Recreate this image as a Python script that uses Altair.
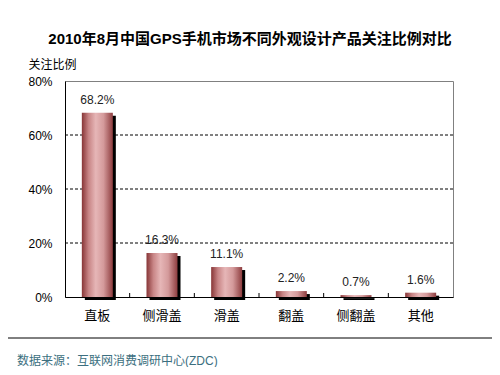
import altair as alt
import pandas as pd

categories = ["直板", "侧滑盖", "滑盖", "翻盖", "侧翻盖", "其他"]
values = [68.2, 16.3, 11.1, 2.2, 0.7, 1.6]
value_labels = ["68.2%", "16.3%", "11.1%", "2.2%", "0.7%", "1.6%"]
y_ticks = [0, 20, 40, 60, 80]
grid_values = [20, 40, 60]

title_text = "2010年8月中国GPS手机市场不同外观设计产品关注比例对比"
y_title = "关注比例"
source_text = "数据来源：互联网消费调研中心(ZDC)"

FONT = "Liberation Sans, Noto Sans CJK SC, sans-serif"

df = pd.DataFrame({"cat": categories, "val": values, "lab": value_labels})
grid_df = pd.DataFrame({"g": grid_values})

xenc = alt.X("cat:N", sort=categories,
             scale=alt.Scale(paddingInner=0, paddingOuter=0),
             axis=alt.Axis(title=None, labelAngle=0, labelFont=FONT, labelFontSize=13,
                           labelColor="black", labelPadding=12, ticks=False,
                           domainColor="black", domainWidth=1))
yscale = alt.Scale(domain=[0, 80])

base = alt.Chart(df)

grid = alt.Chart(grid_df).mark_rule(color="black", strokeDash=[3, 2], strokeWidth=1).encode(
    y=alt.Y("g:Q", scale=yscale)
)

shadow = base.mark_bar(color="black", size=31, xOffset=3, yOffset=3).encode(
    x=xenc,
    y=alt.Y("val:Q", scale=yscale),
)

bars = base.mark_bar(
    size=31,
    color=alt.Gradient(
        gradient="linear",
        stops=[
            alt.GradientStop(color="#873536", offset=0),
            alt.GradientStop(color="#c88586", offset=0.22),
            alt.GradientStop(color="#e6b6b7", offset=0.45),
            alt.GradientStop(color="#d49a9b", offset=0.7),
            alt.GradientStop(color="#8e3d3f", offset=1),
        ],
        x1=0, x2=1, y1=0, y2=0,
    ),
).encode(
    x=xenc,
    y=alt.Y("val:Q", scale=yscale,
            axis=alt.Axis(values=y_ticks, labelExpr="datum.value + '%'", grid=False,
                          ticks=False, labelFont=FONT, labelFontSize=12, labelColor="black",
                          labelPadding=13, domainColor="black", domainWidth=1,
                          title=y_title, titleAngle=0, titleAlign="left",
                          titleBaseline="middle", titleX=-37, titleY=-17,
                          titleFont=FONT, titleFontSize=12, titleFontWeight="normal",
                          titleColor="black")),
)

text = base.mark_text(font=FONT, fontSize=12, color="#222222", baseline="bottom", dy=-6).encode(
    x=alt.X("cat:N", sort=categories),
    y=alt.Y("val:Q", scale=yscale),
    text="lab:N",
)

ticks = base.transform_filter(alt.datum.cat != categories[0]).mark_rule(
    color="black", strokeWidth=1
).encode(
    x=alt.X("cat:N", sort=categories, bandPosition=0),
    y=alt.value(212),
    y2=alt.value(216),
)

title = alt.Chart(pd.DataFrame({"t": [title_text]})).mark_text(
    font=FONT, fontSize=15, fontWeight="bold", color="black", align="center", baseline="middle"
).encode(x=alt.value(185), y=alt.value(-42), text="t:N")

source = alt.Chart(pd.DataFrame({"t": [source_text]})).mark_text(
    font=FONT, fontSize=12, color="#3b6f80", align="left", baseline="middle"
).encode(x=alt.value(-48), y=alt.value(280), text="t:N")

sep = alt.Chart(pd.DataFrame({"a": [0]})).mark_rule(color="black", strokeWidth=1).encode(
    x=alt.value(-57), x2=alt.value(427), y=alt.value(257)
)

chart = alt.layer(grid, shadow, bars, text, ticks, title, source, sep).properties(
    width=388, height=216,
    autosize=alt.AutoSizeParams(type="none"),
    padding={"left": 57, "top": 73, "right": 39, "bottom": 70},
    background="white",
).configure_view(stroke="#808080", strokeWidth=1)

chart.save("out.html", embed_options={"renderer": "svg", "actions": False})
